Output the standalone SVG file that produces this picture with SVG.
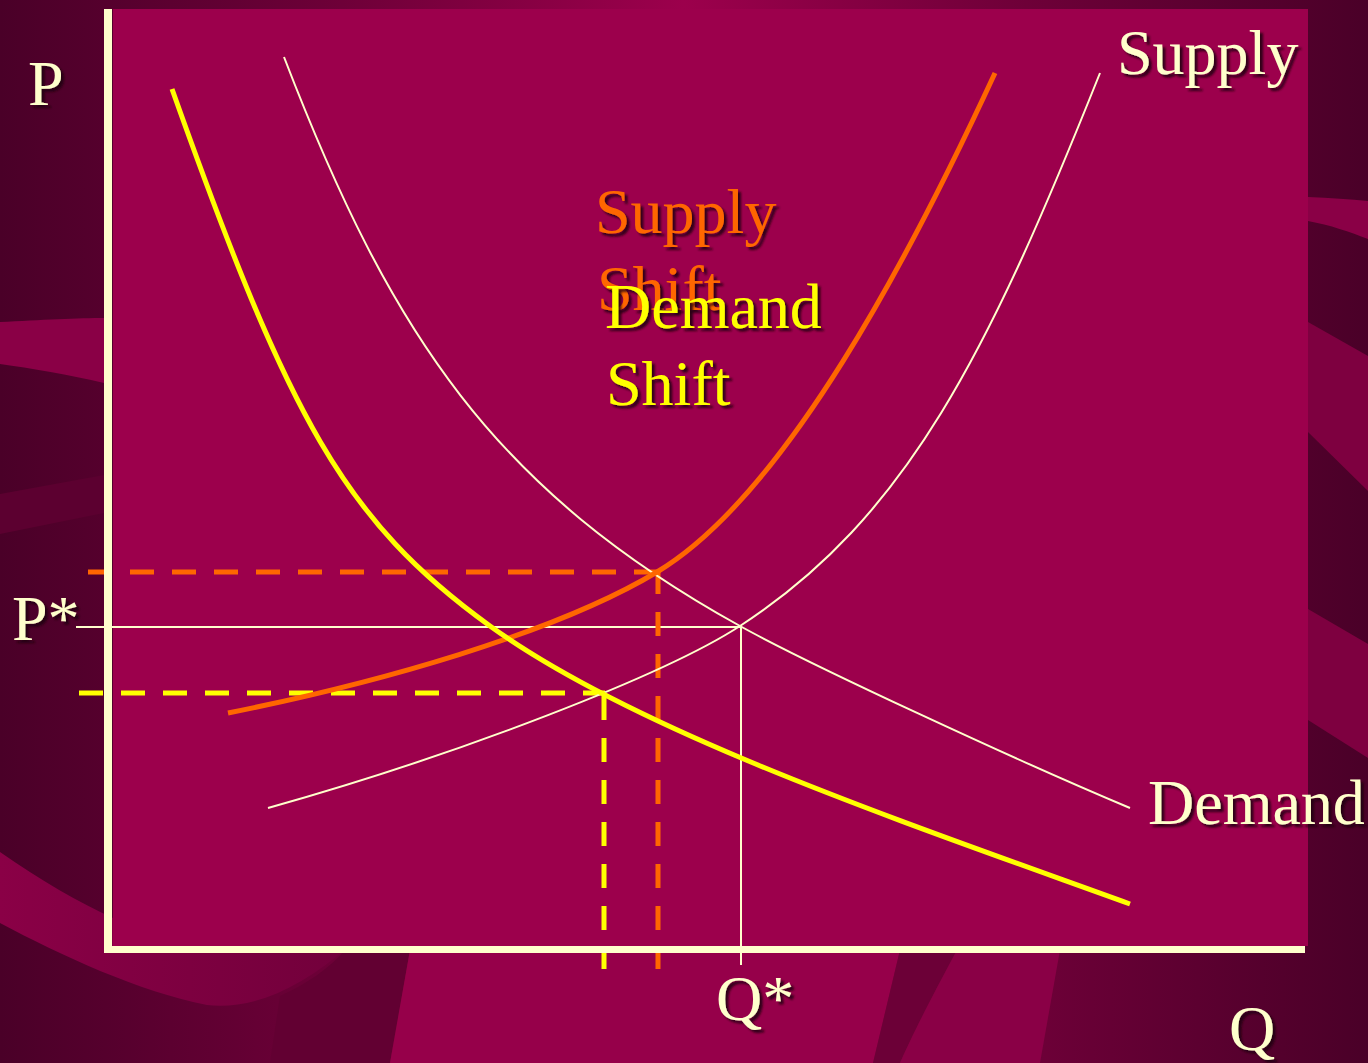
<svg xmlns="http://www.w3.org/2000/svg" width="1368" height="1063" viewBox="0 0 1368 1063">
<defs>
<linearGradient id="bg" x1="0" y1="0" x2="1" y2="0">
<stop offset="0" stop-color="#4A0028"/>
<stop offset="0.25" stop-color="#6E0038"/>
<stop offset="0.5" stop-color="#9C004C"/>
<stop offset="0.75" stop-color="#6E0038"/>
<stop offset="1" stop-color="#4A0028"/>
</linearGradient>
<linearGradient id="swirl" x1="0" y1="0" x2="1" y2="0">
<stop offset="0" stop-color="#8A0046"/>
<stop offset="1" stop-color="#72003B"/>
</linearGradient>
<filter id="shadow" x="-10%" y="-10%" width="130%" height="140%">
<feDropShadow dx="3" dy="3" stdDeviation="1.2" flood-color="#1A000C" flood-opacity="0.85"/>
</filter>
<style>
.lbl{font-family:"Liberation Serif","Times New Roman",serif;font-size:64px;fill:#FFFFCC;filter:url(#shadow)}
.org{fill:#FF6600}
.yel{fill:#FFFF00}
.thin{fill:none;stroke:#FFFFCC;stroke-width:2}
.thick{fill:none;stroke-width:5}
.dash{fill:none;stroke-width:5;stroke-dasharray:24 18}
</style>
</defs>

<g id="background">
<rect x="0" y="0" width="1368" height="1063" fill="url(#bg)"/>
<path d="M0,322 C40,320 80,318 104,318 L104,383 C70,375 30,368 0,364 Z" fill="#8A0046"/>
<path d="M0,494 L104,475 L104,513 L0,534 Z" fill="#5C0030"/>
<path d="M0,852 C40,880 80,903 113,918 L113,900 L350,900 L350,945 C300,990 250,1010 207,1005 C140,992 60,955 0,923 Z" fill="url(#swirl)"/>
<path d="M345,950 L410,950 L390,1063 L270,1063 L280,996 C305,985 330,968 345,950 Z" fill="#620032"/>
<path d="M410,950 L900,950 L873,1063 L390,1063 Z" fill="#96004A"/>
<path d="M900,950 L957,950 C930,1000 910,1040 900,1063 L873,1063 Z" fill="#6C0037"/>
<path d="M957,950 L1060,950 L1040,1063 L900,1063 C910,1040 930,1000 957,950 Z" fill="#8A0046"/>
<path d="M1308,197 C1330,198 1350,199 1368,201 L1368,239 C1350,232 1330,225 1308,221 Z" fill="#8A0046"/>
<path d="M1308,322 L1368,356 L1368,491 L1308,432 Z" fill="#7E0040"/>
<path d="M1308,609 L1368,644 L1368,758 L1308,720 Z" fill="#7E0040"/>
</g>

<g id="plot-area">
<rect x="113" y="9" width="1195" height="937" fill="#9C004C"/>
</g>

<g id="connectors">
<path class="thin" d="M76,627 L741,627 M741,627 L741,965"/>
<path class="dash" stroke="#FF6600" d="M88,572 L658,572 M658,570 L658,969"/>
<path class="dash" stroke="#FFFF00" d="M79,693 L605,693 M604,696 L604,969"/>
</g>

<g id="supply-curve">
<path class="thin" d="M268,808 C460.6,754 664.6,675 740,626 C907.6,517 988.7,351.4 1100,73"/>
</g>
<g id="demand-curve">
<path class="thin" d="M284,57 C391.7,336.9 495.3,490.2 740,626 C809.9,664.8 1019.4,761.6 1130,808"/>
</g>
<g id="supply-shift-curve">
<path class="thick" stroke="#FF6600" d="M228,713 C375,683.6 554.2,633.7 657,572 C785.6,494.9 911,254.4 995,73"/>
</g>
<g id="demand-shift-curve">
<path class="thick" stroke="#FFFF00" d="M172,89 C289.25,418.7 344.2,520.7 490,626 C635.8,731.3 895,819 1130,904"/>
</g>

<g id="axes">
<line x1="108" y1="9" x2="108" y2="953" stroke="#FFFFCC" stroke-width="8"/>
<line x1="104" y1="949.5" x2="1305" y2="949.5" stroke="#FFFFCC" stroke-width="7"/>
</g>

<g id="labels">
<text class="lbl" x="28" y="105">P</text>
<text class="lbl" x="12" y="640">P*</text>
<text class="lbl" x="1117" y="74">Supply</text>
<text class="lbl" x="1148" y="824">Demand</text>
<text class="lbl" x="716" y="1020">Q*</text>
<text class="lbl" x="1229" y="1050">Q</text>
<text class="lbl org" x="595" y="233">Supply</text>
<text class="lbl org" x="597" y="310">Shift</text>
<text class="lbl yel" x="605" y="328">Demand</text>
<text class="lbl yel" x="606" y="405">Shift</text>
</g>
</svg>
